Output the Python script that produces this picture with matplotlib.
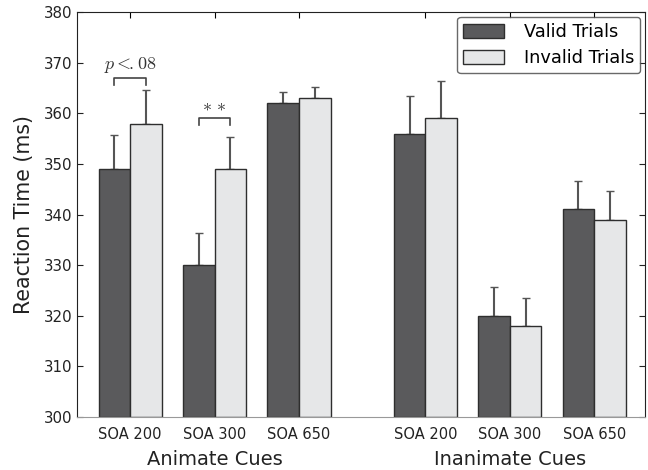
import numpy as np
import matplotlib.pyplot as plt
import matplotlib.transforms as mtransforms

plt.rcParams['font.family'] = ['DejaVu Sans']
plt.rcParams['mathtext.fontset'] = 'cm'

# data
soa_labels = ['SOA 200', 'SOA 300', 'SOA 650', 'SOA 200', 'SOA 300', 'SOA 650']
group_labels = ['Animate Cues', 'Inanimate Cues']
positions = [1, 2, 3, 4.5, 5.5, 6.5]
valid_rt = [349, 330, 362, 356, 320, 341]
invalid_rt = [358, 349, 363, 359, 318, 339]
valid_err = [6.7, 6.4, 2.2, 7.5, 5.6, 5.7]
invalid_err = [6.7, 6.4, 2.3, 7.5, 5.6, 5.7]

dark = '#5a5a5c'
light = '#e6e7e8'
edge = '#2e2e2e'
errc = '#555555'

fig = plt.figure(figsize=(6.48, 4.70), dpi=100)
ax = fig.add_axes([0.119, 0.113, 0.876, 0.861])

x = np.array(positions)
w = 0.375
ax.bar(x - w / 2, np.array(valid_rt) - 300, w, bottom=300, color=dark,
       edgecolor=edge, linewidth=1.0, label='Valid Trials', zorder=2)
ax.bar(x + w / 2, np.array(invalid_rt) - 300, w, bottom=300, color=light,
       edgecolor=edge, linewidth=1.0, label='Invalid Trials', zorder=2)
ax.errorbar(x - w / 2, valid_rt, yerr=[np.zeros(6), valid_err], fmt='none',
            ecolor=errc, elinewidth=1.5, capsize=3, capthick=1.0, zorder=1)
ax.errorbar(x + w / 2, invalid_rt, yerr=[np.zeros(6), invalid_err], fmt='none',
            ecolor=errc, elinewidth=1.5, capsize=3, capthick=1.0, zorder=1)

ax.set_xlim(0.37, 7.1)
ax.set_ylim(300, 380)
ax.set_yticks(np.arange(300, 381, 10))
ax.set_xticks(positions)
ax.set_xticklabels(soa_labels, fontsize=10.5, color='#222222')
ax.tick_params(axis='y', labelsize=10.8, colors='#222222', direction='in',
               right=True, length=4)
ax.tick_params(axis='x', direction='in', top=True, length=4, pad=7)
for s in ax.spines.values():
    s.set_color('#222222')
    s.set_linewidth(0.8)
ax.spines['bottom'].set_color('#999999')

ax.set_ylabel('Reaction Time (ms)', fontsize=14.8, color='#222222', labelpad=7)

trans = mtransforms.blended_transform_factory(ax.transData, fig.transFigure)
ax.text(2, 0.01, group_labels[0], transform=trans, ha='center', fontsize=14, color='#222222')
ax.text(5.5, 0.01, group_labels[1], transform=trans, ha='center', fontsize=14, color='#222222')

# significance brackets
def bracket(xc, y, text):
    x0, x1 = xc - w / 2, xc + w / 2
    ax.plot([x0, x0, x1, x1], [y - 1.4, y, y, y - 1.4], color='#444444', lw=1.2)
    ax.text(xc, y + 0.6, text, ha='center', va='bottom', fontsize=13, color='#333333')

bracket(positions[0], 367.0, r'$p<\!\!.08$')
bracket(positions[1], 359.1, r'$*\,*$')

leg = ax.legend(loc='upper right', fontsize=12.8, frameon=True, fancybox=True,
                edgecolor='#444444', handlelength=2.3, handleheight=0.8,
                borderaxespad=0.25, labelspacing=0.45, borderpad=0.35,
                handletextpad=1.1)
leg.get_frame().set_linewidth(1.0)

fig.savefig('out.png', dpi=100)
